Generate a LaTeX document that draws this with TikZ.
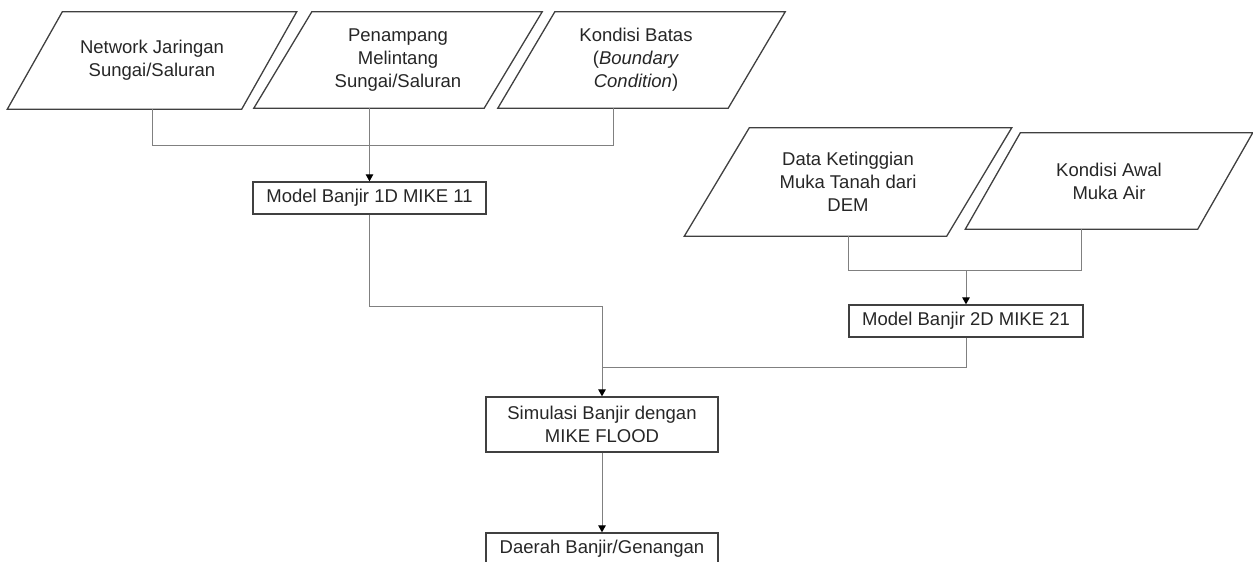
\documentclass[tikz,border=0pt]{standalone}
\usepackage{fontspec}
\setmainfont{Liberation Sans}
\usetikzlibrary{arrows.meta}
\begin{document}
\begin{tikzpicture}[x=1pt,y=-1pt,
  txt/.style={align=center, inner sep=0pt, font=\fontsize{18.5}{23}\selectfont, text=black!85},
  pnode/.style={txt, draw=none},
  pborder/.style={draw=black!75, line width=1.3pt, line join=miter},
  boxnode/.style={txt, draw=black!75, line width=1.3pt},
  conn/.style={draw=black!50, line width=1pt},
  arr/.style={conn, -{Triangle[length=7pt,width=7.5pt,color=black]}}]
\useasboundingbox (0,0) rectangle (1253,562);
\clip (0,0) rectangle (1253,562);
% parallelograms (input data)
\node[pnode, minimum width=234pt, minimum height=97pt] (P1) at (152,60.5) {Network Jaringan\\Sungai/Saluran};
\draw[pborder] ([xshift=27.5pt]P1.north west) -- ([xshift=27.5pt]P1.north east) -- ([xshift=-27.5pt]P1.south east) -- ([xshift=-27.5pt]P1.south west) -- cycle;
\node[pnode, minimum width=230pt, minimum height=96pt] (P2) at (398,60) {Penampang\\Melintang\\Sungai/Saluran};
\draw[pborder] ([xshift=29pt]P2.north west) -- ([xshift=29pt]P2.north east) -- ([xshift=-29pt]P2.south east) -- ([xshift=-29pt]P2.south west) -- cycle;
\node[pnode, minimum width=230pt, minimum height=96pt] (P3) at (641.5,60) {};
\node[txt] (P3t) at (636,60) {Kondisi Batas\\(\textit{Boundary}\\\textit{Condition})};
\draw[pborder] ([xshift=28.5pt]P3.north west) -- ([xshift=28.5pt]P3.north east) -- ([xshift=-28.5pt]P3.south east) -- ([xshift=-28.5pt]P3.south west) -- cycle;
\node[pnode, minimum width=262pt, minimum height=108pt] (P4) at (848,182) {Data Ketinggian\\Muka Tanah dari\\DEM};
\draw[pborder] ([xshift=32.5pt]P4.north west) -- ([xshift=32.5pt]P4.north east) -- ([xshift=-32.5pt]P4.south east) -- ([xshift=-32.5pt]P4.south west) -- cycle;
\node[pnode, minimum width=232pt, minimum height=96pt] (P5) at (1109,181) {Kondisi Awal\\Muka Air};
\draw[pborder] ([xshift=27.5pt]P5.north west) -- ([xshift=27.5pt]P5.north east) -- ([xshift=-27.5pt]P5.south east) -- ([xshift=-27.5pt]P5.south west) -- cycle;
% process boxes
\node[boxnode, minimum width=233pt, minimum height=32pt] (B1) at (369.5,198) {Model Banjir 1D MIKE 11};
\node[boxnode, minimum width=234pt, minimum height=32pt] (B2) at (966,321) {Model Banjir 2D MIKE 21};
\node[boxnode, minimum width=232pt, minimum height=55pt] (S) at (602,424.5) {Simulasi Banjir dengan\\MIKE FLOOD};
\node[boxnode, minimum width=232pt, minimum height=32pt] (D) at (602,549) {Daerah Banjir/Genangan};
% junctions
\coordinate (j1) at (369.5,145);
\coordinate (j2) at (602,306);
\coordinate (j3) at (966,270);
% connectors
\draw[conn] (P1.south) |- (j1);
\draw[conn] ([xshift=-28.5pt]P3.south) |- (j1);
\draw[arr] (P2.south -| B1.north) -- (B1.north);
\draw[conn] (P4.south) |- (j3);
\draw[conn] ([xshift=-27.5pt]P5.south) |- (j3);
\draw[arr] (j3) -- (B2.north);
\draw[conn] (B1.south) |- (j2);
\draw[conn] (B2.south) |- (S.north |- 0,367);
\draw[arr] (j2) -- (S.north);
\draw[arr] (S.south) -- (D.north);
\end{tikzpicture}
\end{document}
